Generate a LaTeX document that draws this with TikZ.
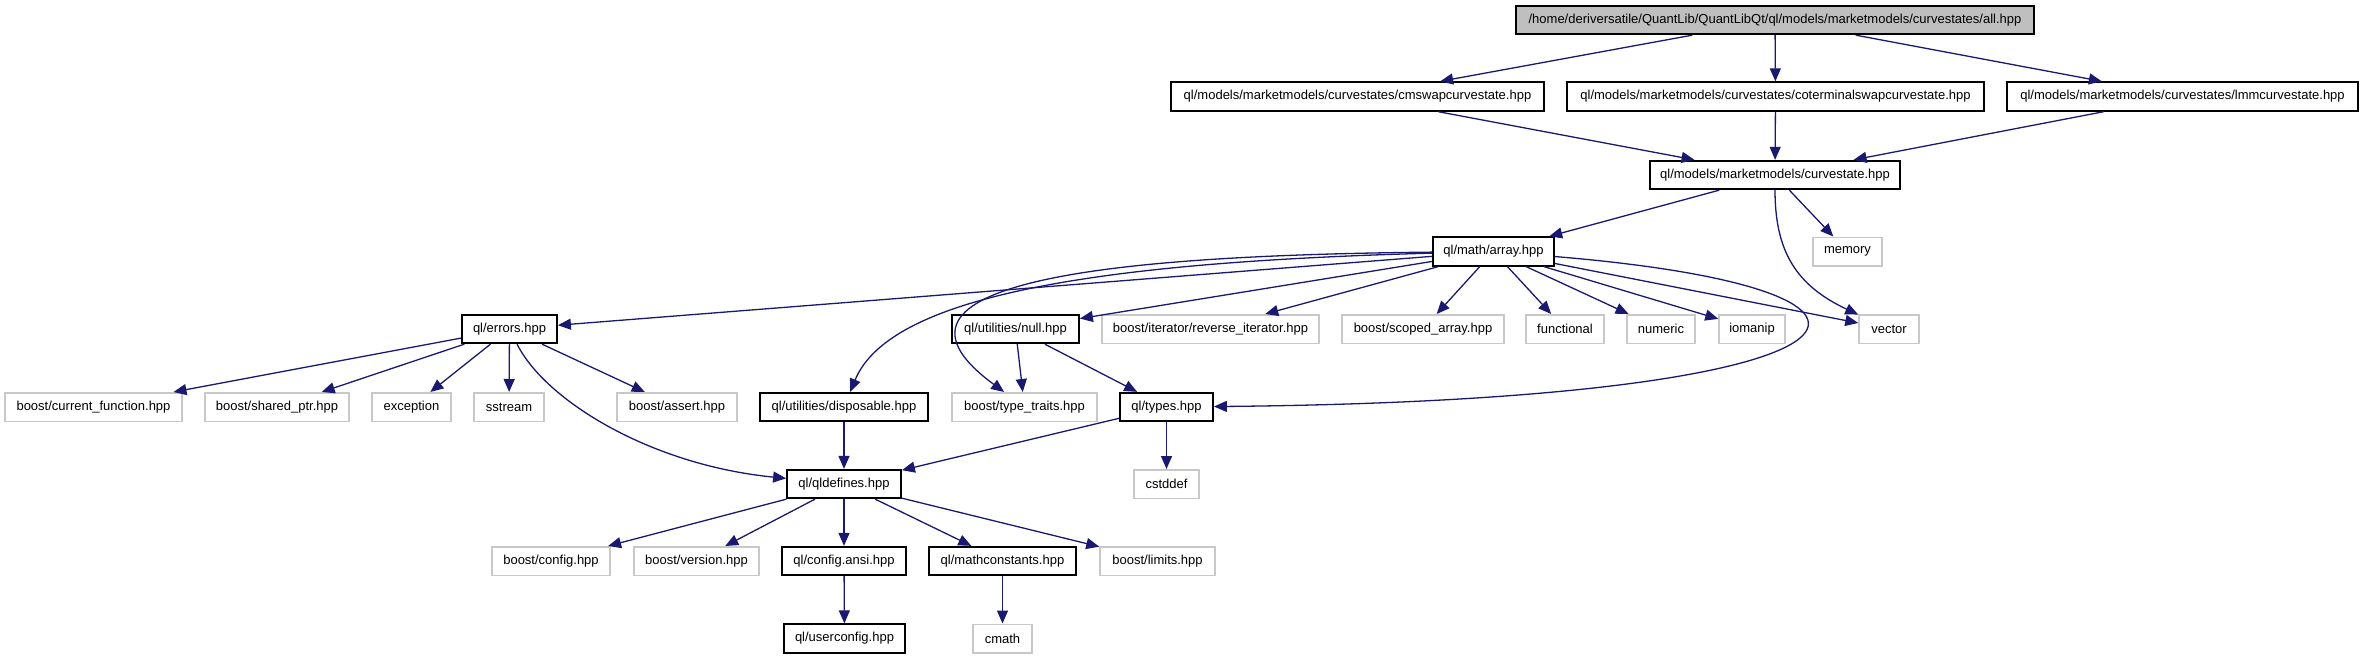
\documentclass[tikz,border=0pt]{standalone}
\usepackage{fontspec}
\setmainfont{Liberation Sans}
\usepackage{tikz}
\usetikzlibrary{arrows.meta}

\definecolor{edgeblue}{HTML}{191970}
\definecolor{extgray}{HTML}{C8C8C8}
\definecolor{rootgray}{HTML}{BFBFBF}

\begin{document}
\begin{tikzpicture}[
  x=1pt,y=-1pt,
  doc/.style={draw=black,line width=1.8pt,fill=white,minimum height=28.5pt,
    inner sep=0pt,font=\fontsize{13}{15}\selectfont},
  ext/.style={doc,draw=extgray,line width=1.5pt},
  root/.style={doc,fill=rootgray},
  incl/.style={-{Triangle[length=13pt,width=11pt]},draw=edgeblue,line width=1.3pt},
]
  \useasboundingbox (0,0) rectangle (2363,659);

  % top rows
  \node[root,minimum width=518pt] (all) at (1775,20)
    {/home/deriversatile/QuantLib/QuantLibQt/ql/models/marketmodels/curvestates/all.hpp};
  \node[doc,minimum width=373pt] (cmswap) at (1357.5,96.5)
    {ql/models/marketmodels/curvestates/cmswapcurvestate.hpp};
  \node[doc,minimum width=417pt] (coterm) at (1775.5,96.5)
    {ql/models/marketmodels/curvestates/coterminalswapcurvestate.hpp};
  \node[doc,minimum width=351pt] (lmm) at (2182.5,96.5)
    {ql/models/marketmodels/curvestates/lmmcurvestate.hpp};
  \node[doc,minimum width=250pt] (curvestate) at (1775,175)
    {ql/models/marketmodels/curvestate.hpp};
  \node[doc,minimum width=121pt] (array) at (1493.5,251.5) {ql/math/array.hpp};
  \node[ext,minimum width=69pt] (memory) at (1847.5,251.5) {memory};

  % row of array includes
  \node[doc,minimum width=95pt] (errors) at (509.5,329) {ql/errors.hpp};
  \node[doc,minimum width=127pt] (null) at (1015.5,329) {ql/utilities/null.hpp};
  \node[ext,minimum width=217pt] (reviter) at (1210.5,329) {boost/iterator/reverse\_iterator.hpp};
  \node[ext,minimum width=162pt] (scoped) at (1423,329) {boost/scoped\_array.hpp};
  \node[ext,minimum width=78pt] (functional) at (1565,329) {functional};
  \node[ext,minimum width=68pt] (numeric) at (1661,329) {numeric};
  \node[ext,minimum width=66pt] (iomanip) at (1752,329) {iomanip};
  \node[ext,minimum width=60pt] (vector) at (1889,329) {vector};

  \node[ext,minimum width=177pt] (curfunc) at (93.5,407) {boost/current\_function.hpp};
  \node[ext,minimum width=144pt] (sharedptr) at (277,407) {boost/shared\_ptr.hpp};
  \node[ext,minimum width=79pt] (exception) at (411.5,407) {exception};
  \node[ext,minimum width=70pt] (sstream) at (509,407) {sstream};
  \node[ext,minimum width=120pt] (assert) at (677,407) {boost/assert.hpp};
  \node[doc,minimum width=168pt] (disposable) at (844,407) {ql/utilities/disposable.hpp};
  \node[ext,minimum width=145pt] (typetraits) at (1024.5,407) {boost/type\_traits.hpp};
  \node[doc,minimum width=93pt] (types) at (1166.5,407) {ql/types.hpp};

  \node[doc,minimum width=114pt] (qldefines) at (844,484) {ql/qldefines.hpp};
  \node[ext,minimum width=65pt] (cstddef) at (1166.5,484) {cstddef};

  \node[ext,minimum width=118pt] (bconfig) at (551,561) {boost/config.hpp};
  \node[ext,minimum width=125pt] (bversion) at (696.5,561) {boost/version.hpp};
  \node[doc,minimum width=124pt] (configansi) at (844,561) {ql/config.ansi.hpp};
  \node[doc,minimum width=147pt] (mathconst) at (1002.5,561) {ql/mathconstants.hpp};
  \node[ext,minimum width=115pt] (blimits) at (1157.5,561) {boost/limits.hpp};

  \node[doc,minimum width=121pt] (userconfig) at (844.5,638.5) {ql/userconfig.hpp};
  \node[ext,minimum width=59pt] (cmath) at (1002.5,638.5) {cmath};

  % edges
  \draw[incl] (all) -- (cmswap);
  \draw[incl] (all) -- (coterm);
  \draw[incl] (all) -- (lmm);
  \draw[incl] (cmswap) -- (curvestate);
  \draw[incl] (coterm) -- (curvestate);
  \draw[incl] (lmm) -- (curvestate);
  \draw[incl] (curvestate) -- (array);
  \draw[incl] (curvestate) -- (memory);
  \draw[incl] (curvestate) .. controls (1775,250) and (1795,285) .. (vector);

  \draw[incl] (array) -- (errors);
  \draw[incl] (array) .. controls (1100,262) and (890,295) .. (disposable);
  \draw[incl] (array) .. controls (1150,255) and (845,275) .. (typetraits);
  \draw[incl] (array) -- (null);
  \draw[incl] (array) -- (reviter);
  \draw[incl] (array) -- (scoped);
  \draw[incl] (array) -- (functional);
  \draw[incl] (array) -- (numeric);
  \draw[incl] (array) -- (iomanip);
  \draw[incl] (array) -- (vector);
  \draw[incl] (array) .. controls (1960,290) and (1900,400) .. (types);

  \draw[incl] (errors) -- (curfunc);
  \draw[incl] (errors) -- (sharedptr);
  \draw[incl] (errors) -- (exception);
  \draw[incl] (errors) -- (sstream);
  \draw[incl] (errors) -- (assert);
  \draw[incl] (errors) .. controls (545,400) and (650,465) .. (qldefines);

  \draw[incl] (null) -- (typetraits);
  \draw[incl] (null) -- (types);
  \draw[incl] (disposable) -- (qldefines);
  \draw[incl] (types) -- (qldefines);
  \draw[incl] (types) -- (cstddef);

  \draw[incl] (qldefines) -- (bconfig);
  \draw[incl] (qldefines) -- (bversion);
  \draw[incl] (qldefines) -- (configansi);
  \draw[incl] (qldefines) -- (mathconst);
  \draw[incl] (qldefines) -- (blimits);
  \draw[incl] (configansi) -- (userconfig);
  \draw[incl] (mathconst) -- (cmath);
\end{tikzpicture}
\end{document}
